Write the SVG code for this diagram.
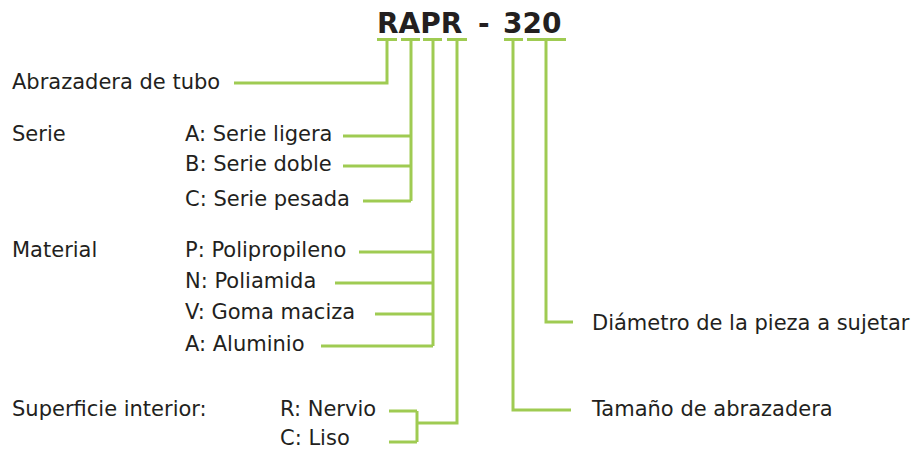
<svg xmlns="http://www.w3.org/2000/svg" width="918" height="450" viewBox="0 0 918 450">
<style>
text{font-family:"DejaVu Sans","Liberation Sans",sans-serif;font-size:21px;fill:#231f20}
.title{font-weight:bold;font-size:28px}
.c{fill:none;stroke:#9fcb52;stroke-width:3;stroke-linecap:butt;stroke-linejoin:miter}
</style>
<rect width="918" height="450" fill="#ffffff"/>
<g id="title"><text class="title" y="33"><tspan x="377">RAPR</tspan><tspan x="478">-</tspan><tspan x="503">320</tspan></text></g>
<g id="abrazadera"><text x="12" y="89">Abrazadera de tubo</text></g>
<g id="serie">
<text x="12" y="141">Serie</text>
<text x="185" y="141">A: Serie ligera</text>
<text x="185" y="171">B: Serie doble</text>
<text x="185" y="206">C: Serie pesada</text>
</g>
<g id="material">
<text x="12" y="257">Material</text>
<text x="185" y="257">P: Polipropileno</text>
<text x="185" y="288">N: Poliamida</text>
<text x="185" y="319">V: Goma maciza</text>
<text x="185" y="351">A: Aluminio</text>
</g>
<g id="superficie">
<text x="12" y="416">Superficie interior:</text>
<text x="280" y="416">R: Nervio</text>
<text x="280" y="445">C: Liso</text>
</g>
<g id="diametro"><text x="592" y="330">Diámetro de la pieza a sujetar</text></g>
<g id="tamano"><text x="592" y="416">Tamaño de abrazadera</text></g>
<g id="connectors" class="c">
<path class="c" d="M377,39.5H397M387,39.5V83H234"/>
<path class="c" d="M401,39.5H420M411,39.5V201M343,136H411M343,166H411M363,201H411"/>
<path class="c" d="M423,39.5H442M433,39.5V346M359,252H433M335,283H433M375,314H433M321,346H433"/>
<path class="c" d="M447,39.5H467M457,39.5V423H417M417,411V442M389,411H417M389,442H417"/>
<path class="c" d="M504,39.5H523M513,39.5V410H571"/>
<path class="c" d="M527,39.5H566M546,39.5V322H573"/>
</g>
</svg>
